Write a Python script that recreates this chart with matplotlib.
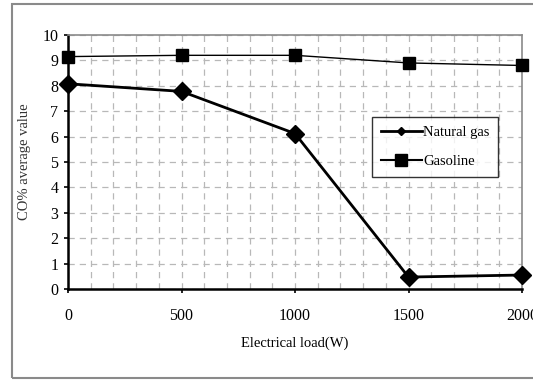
import matplotlib
matplotlib.use("Agg")
import matplotlib.pyplot as plt
from matplotlib.patches import Rectangle
from matplotlib.lines import Line2D

load = [0, 500, 1000, 1500, 2000]
natural_gas = [8.08, 7.78, 6.12, 0.47, 0.55]
gasoline = [9.15, 9.2, 9.2, 8.9, 8.8]
yticks = list(range(0, 11))
xticks = [0, 500, 1000, 1500, 2000]

plt.rcParams['font.family'] = ['Liberation Serif', 'DejaVu Serif']

W, H = 533, 380
fig = plt.figure(figsize=(W / 100, H / 100), dpi=100)
fig.patch.set_facecolor('white')

# outer frame
fig.patches.append(Rectangle((12 / W, 2 / H), 530 / W, 374 / H, transform=fig.transFigure,
                             fill=False, edgecolor='#8a8a8a', linewidth=1.5))

ax = fig.add_axes([68 / W, 1 - 289 / H, (522 - 68) / W, (289 - 35) / H])
ax.set_xlim(0, 2000)
ax.set_ylim(0, 10)
ax.set_xticks(xticks)
ax.set_yticks(yticks)
ax.set_xticks(range(0, 2001, 100), minor=True)
ax.grid(True, which='major', axis='y', linestyle=(0, (5, 4)), color='#b8b8b8', linewidth=0.9)
ax.grid(True, which='both', axis='x', linestyle=(0, (5, 4)), color='#b8b8b8', linewidth=0.9)
ax.tick_params(axis='x', which='minor', length=0)
ax.tick_params(axis='both', which='major', direction='out', length=3, width=1.2,
               labelsize=11.5, colors='black', pad=11)
ax.tick_params(axis='y', pad=4)
for s in ['left', 'bottom']:
    ax.spines[s].set_linewidth(1.8)
    ax.spines[s].set_color('black')
for s in ['top', 'right']:
    ax.spines[s].set_linewidth(1.2)
    ax.spines[s].set_color('#8a8a8a')

ax.plot(load, gasoline, color='black', linewidth=1.0, marker='s', markersize=9, clip_on=False, zorder=5)
ax.plot(load, natural_gas, color='black', linewidth=2.0, marker='D', markersize=9, clip_on=False, zorder=5)

ax.set_xlabel('Electrical load(W)', fontsize=10.5, labelpad=9)
ax.set_ylabel('CO% average value', fontsize=10.5, labelpad=8, color='#333333')

handles = [Line2D([], [], color='black', linewidth=2.0, marker='D', markersize=4),
           Line2D([], [], color='black', linewidth=1.5, marker='s', markersize=8)]
leg = ax.legend(handles, ['Natural gas', 'Gasoline'], loc='upper left',
                bbox_to_anchor=((372 - 68) / (522 - 68), (289 - 117) / (289 - 35)),
                frameon=True, fancybox=False, edgecolor='black', fontsize=10.5,
                handlelength=2.8, handletextpad=0.1, labelspacing=1.1, borderpad=0.6,
                borderaxespad=0)
leg.get_frame().set_linewidth(1.0)

fig.savefig('out.png', dpi=100)
